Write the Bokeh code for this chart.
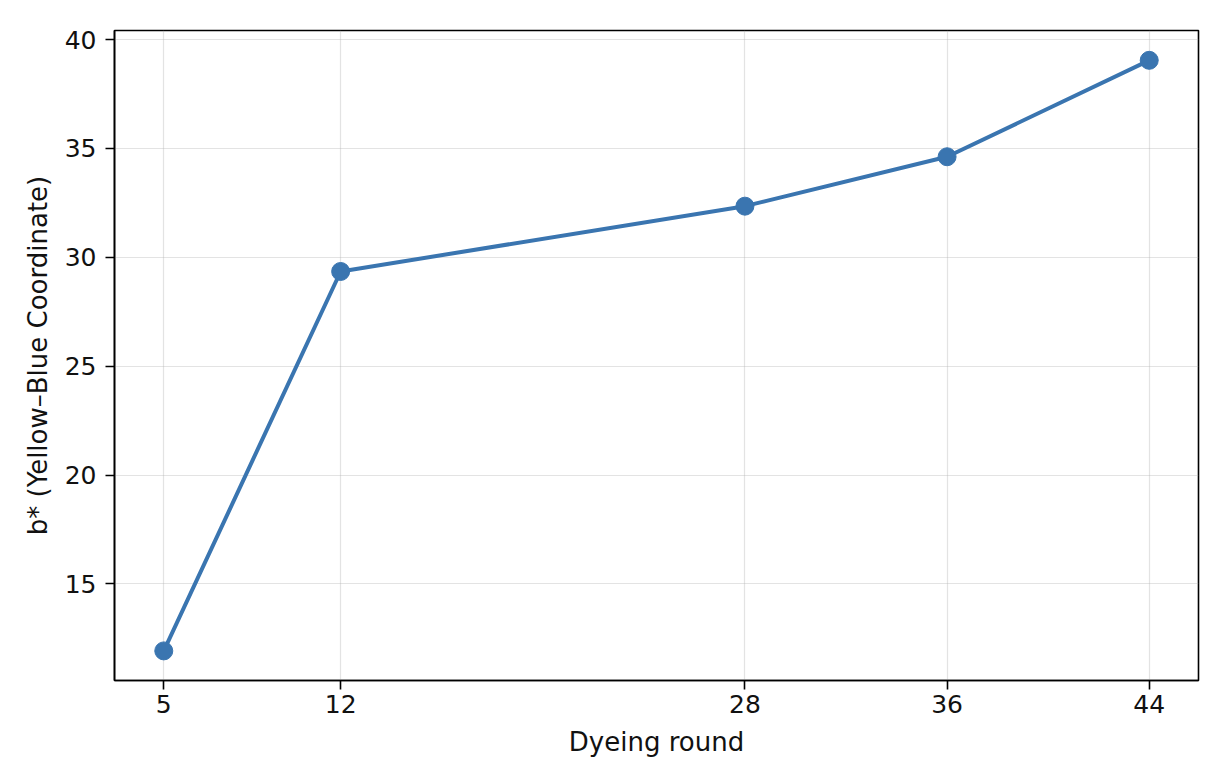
from bokeh.plotting import figure
from bokeh.models import FixedTicker, Range1d
from bokeh.embed import file_html
from bokeh.resources import INLINE

rounds = [5, 12, 28, 36, 44]
b_star = [11.92, 29.35, 32.35, 34.62, 39.05]
x_ticks = [5, 12, 28, 36, 44]
y_ticks = [15, 20, 25, 30, 35, 40]

color = "#3a75b0"
font = "DejaVu Sans"

p = figure(width=1212, height=766, output_backend="svg", toolbar_location=None,
           x_range=Range1d(3.05, 45.95), y_range=Range1d(10.56, 40.42),
           min_border_left=114, min_border_right=14, min_border_top=30, min_border_bottom=86)

p.line(rounds, b_star, line_color=color, line_width=4)
p.scatter(rounds, b_star, size=18, fill_color=color, line_color=color)

p.xaxis.ticker = FixedTicker(ticks=x_ticks)
p.yaxis.ticker = FixedTicker(ticks=y_ticks)
p.xaxis.axis_label = "Dyeing round"
p.yaxis.axis_label = "b* (Yellow–Blue Coordinate)"

for ax in (p.xaxis, p.yaxis):
    ax.axis_label_text_font = font
    ax.axis_label_text_font_size = "26px"
    ax.axis_label_text_font_style = "normal"
    ax.axis_label_text_color = "#111111"
    ax.major_label_text_font = font
    ax.major_label_text_font_size = "25px"
    ax.major_label_text_color = "#111111"
    ax.axis_line_color = "black"
    ax.axis_line_width = 1.6
    ax.major_tick_line_color = "black"
    ax.major_tick_line_width = 1.6
    ax.major_tick_out = 9
    ax.major_tick_in = 0
    ax.minor_tick_line_color = None

p.xaxis.major_label_standoff = 5
p.yaxis.major_label_standoff = 9
p.xaxis.axis_label_standoff = 11
p.yaxis.axis_label_standoff = 9

p.outline_line_color = "black"
p.outline_line_width = 1.6
p.xgrid.grid_line_color = "#b0b0b0"
p.ygrid.grid_line_color = "#b0b0b0"
p.xgrid.grid_line_alpha = 0.35
p.ygrid.grid_line_alpha = 0.35
p.xgrid.grid_line_width = 1.2
p.ygrid.grid_line_width = 1.2
p.background_fill_color = "white"
p.border_fill_color = "white"

open("out.html", "w").write(file_html(p, INLINE))
